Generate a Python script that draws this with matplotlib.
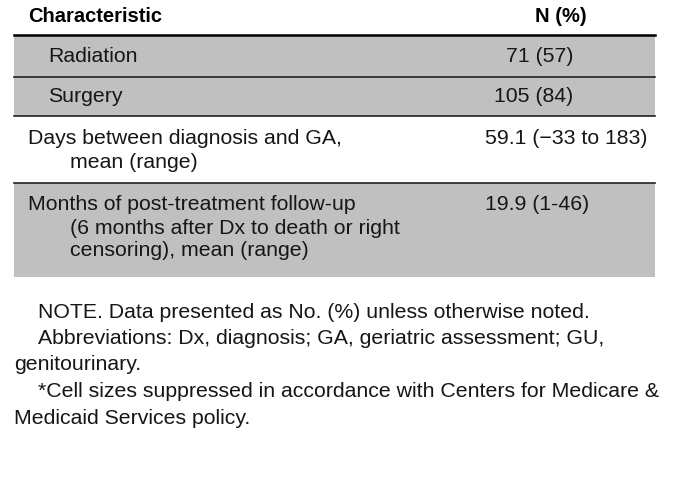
import matplotlib.pyplot as plt
from matplotlib.patches import Rectangle

# table content
header = ["Characteristic", "N (%)"]
row_labels = [
    ["Radiation"],
    ["Surgery"],
    ["Days between diagnosis and GA,", "mean (range)"],
    ["Months of post-treatment follow-up", "(6 months after Dx to death or right",
     "censoring), mean (range)"],
]
row_values = ["71 (57)", "105 (84)", "59.1 (\u221233 to 183)", "19.9 (1-46)"]
row_shaded = [True, True, False, True]
notes = [
    "NOTE. Data presented as No. (%) unless otherwise noted.",
    "Abbreviations: Dx, diagnosis; GA, geriatric assessment; GU,",
    "genitourinary.",
    "*Cell sizes suppressed in accordance with Centers for Medicare &",
    "Medicaid Services policy.",
]
note_indent = [True, True, False, True, False]

W, H = 678, 482
fig = plt.figure(figsize=(W/100, H/100), dpi=100)
ax = fig.add_axes([0, 0, 1, 1])
ax.set_xlim(0, W)
ax.set_ylim(H, 0)
ax.axis('off')

font = ['Liberation Sans', 'DejaVu Sans']
fs = 15.3
txt = '#161616'
gray = '#c0c0c0'
left, right = 14, 655

# row geometry (pixels, top-down)
row_top = [35, 77, 116, 183]
row_bot = [77, 116, 183, 277]
line_y0 = [56, 97, 139, 205]
line_step = 23
indent_first = [48, 48, 28, 28]
indent_rest = 70
val_x = [573, 573, 485, 485]
val_ha = ['right', 'right', 'left', 'left']

ax.text(28, 17, header[0], fontsize=14.5, fontweight='bold', family=font, color='black', va='center')
ax.text(561, 17, header[1], fontsize=14.5, fontweight='bold', family=font, color='black', va='center', ha='center')

for i, lab in enumerate(row_labels):
    if row_shaded[i]:
        ax.add_patch(Rectangle((left, row_top[i]), right-left, row_bot[i]-row_top[i], facecolor=gray, edgecolor='none'))
    for k, line in enumerate(lab):
        x = indent_first[i] if k == 0 else indent_rest
        ax.text(x, line_y0[i] + k*line_step, line, fontsize=fs, family=font, color=txt, va='center')
    ax.text(val_x[i], line_y0[i], row_values[i], fontsize=fs, family=font, color=txt, va='center', ha=val_ha[i])

ax.plot([left, right], [35, 35], color='black', lw=1.8)
for y in row_bot[:-1]:
    ax.plot([left, right], [y, y], color='#222222', lw=1.2)

for k, line in enumerate(notes):
    x = 38 if note_indent[k] else 14
    ax.text(x, 312 + k*26.5, line, fontsize=fs, family=font, color=txt, va='center')

fig.savefig('out.png', dpi=100)
